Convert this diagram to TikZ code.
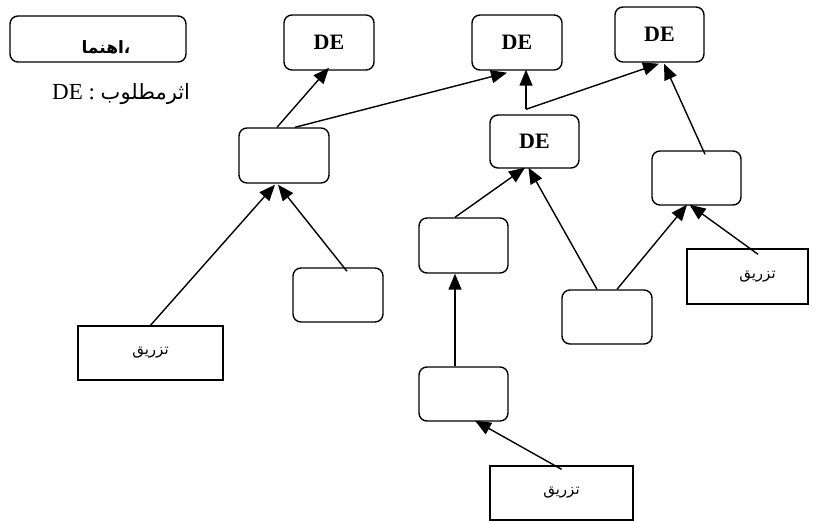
\documentclass[tikz,border=0pt]{standalone}
\usepackage{fontspec}
\setmainfont{Liberation Serif}
\newfontfamily\arabicfont[Script=Arabic]{DejaVu Sans}
\TeXXeTstate=1
\usetikzlibrary{arrows.meta}
\begin{document}
\begin{tikzpicture}[x=1pt,y=-1pt,
  rbox/.style={draw,line width=1.4pt,rounded corners=8pt,inner sep=0pt,
    font=\bfseries\fontsize{22}{26}\selectfont},
  tbox/.style={draw,line width=1.4pt,inner sep=0pt,
    font=\arabicfont\fontsize{15}{18}\selectfont},
  arr/.style={line width=1.4pt,-{Triangle[length=16pt,width=13pt]}}]
\useasboundingbox (0,0) rectangle (820,521);
% legend
\node[rbox,minimum width=176pt,minimum height=46pt] (leg) at (98,39) {};
\node[font=\arabicfont\bfseries\fontsize{17}{20}\selectfont,inner sep=0pt] (legtitle) at (106,47) {\beginR ،اهنما\endR};
\node[font=\fontsize{23}{26}\selectfont,inner sep=0pt,anchor=base west] (legtxt) at (52,100) {DE : {\arabicfont\fontsize{21}{24}\selectfont\beginR اثرمطلوب\endR}};
% DE boxes
\node[rbox,minimum width=90pt,minimum height=55pt] (DE1) at (329,42.5) {DE};
\node[rbox,minimum width=90pt,minimum height=55pt] (DE2) at (517,42.5) {DE};
\node[rbox,minimum width=89pt,minimum height=55pt] (DE3) at (659.5,34.5) {DE};
\node[rbox,minimum width=89pt,minimum height=53pt] (DE4) at (534.5,141.5) {DE};
% empty boxes
\node[rbox,minimum width=90pt,minimum height=55pt] (A) at (284,155.5) {};
\node[rbox,minimum width=89pt,minimum height=54pt] (B) at (696.5,178) {};
\node[rbox,minimum width=90pt,minimum height=54pt] (C) at (607,317) {};
\node[rbox,minimum width=89pt,minimum height=55pt] (D) at (463.5,245.5) {};
\node[rbox,minimum width=90pt,minimum height=54pt] (E) at (338,295) {};
\node[rbox,minimum width=89pt,minimum height=54pt] (F) at (463.5,394) {};
% injection boxes
\node[tbox,minimum width=145pt,minimum height=54pt] (T1) at (150.5,353) {\beginR تزریق\endR};
\node[tbox,minimum width=143pt,minimum height=54pt] (T2) at (561.5,493) {\beginR تزریق\endR};
\node[tbox,minimum width=121pt,minimum height=55pt] (T3) at (747.5,276.5) {\hspace*{20pt}\beginR تزریق\endR};
% junction
\coordinate (j) at ([xshift=-8.5pt,yshift=5pt]DE4.north);
% arrows
\draw[arr] ([xshift=-7pt]A.north) -- ([xshift=0pt,yshift=3pt]DE1.south);
\draw[arr] ([xshift=11pt]A.north) -- ([xshift=-10pt,yshift=-2pt]DE2.south);
\draw[arr] (j) -- ([xshift=9pt,yshift=1pt]DE2.south);
\draw[arr] (j) -- ([xshift=-0.5pt,yshift=-1pt]DE3.south);
\draw[arr] ([xshift=8.5pt,yshift=-4pt]B.north) -- ([xshift=4.5pt,yshift=-1pt]DE3.south);
\draw[arr] ([xshift=-8.5pt]D.north) -- ([xshift=-9.5pt,yshift=1pt]DE4.south);
\draw[arr] ([xshift=-10pt]C.north) -- ([xshift=-6pt,yshift=1pt]DE4.south);
\draw[arr] ([xshift=10pt]C.north) -- ([xshift=-9.5pt,yshift=1pt]B.south);
\draw[arr] ([xshift=10.5pt,yshift=-6pt]T3.north) -- ([xshift=-7pt,yshift=1pt]B.south);
\draw[arr] ([xshift=-8.5pt]F.north) -- ([xshift=-8.5pt]D.south);
\draw[arr] ([yshift=-4pt]T2.north) -- ([xshift=11.5pt,yshift=1pt]F.south);
\draw[arr] (T1.north) -- ([xshift=-9pt,yshift=-1pt]A.south);
\draw[arr] ([xshift=9pt,yshift=-4pt]E.north) -- ([xshift=-6pt,yshift=-1pt]A.south);
\end{tikzpicture}
\end{document}
